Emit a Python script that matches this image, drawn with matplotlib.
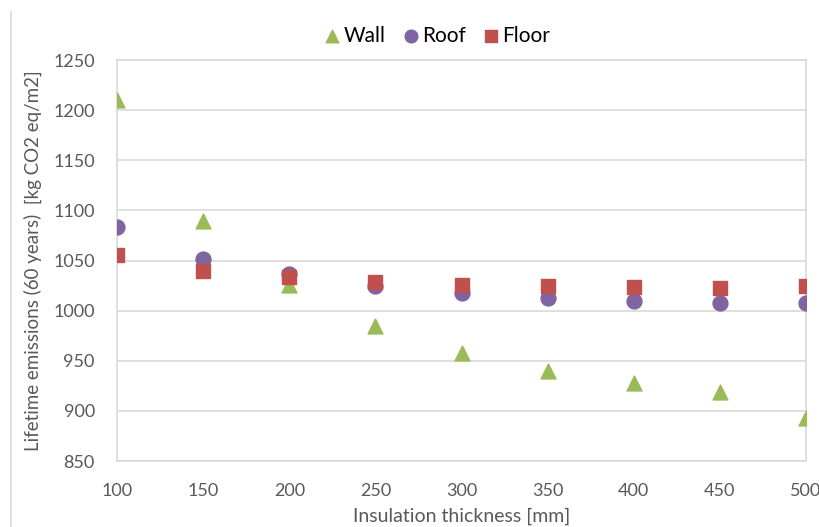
import matplotlib
matplotlib.use("Agg")
import matplotlib.pyplot as plt
from matplotlib.lines import Line2D

# insulation thickness [mm]
thickness = [100, 150, 200, 250, 300, 350, 400, 450, 500]

# lifetime emissions, kg CO2 eq/m2
wall = [1210, 1089, 1026, 985, 958, 940, 928, 919, 893]
roof = [1083, 1052, 1037, 1025, 1018, 1013, 1010, 1008, 1008]
floor = [1056, 1040, 1034, 1029, 1026, 1025, 1024, 1023, 1025]

plt.rcParams['font.family'] = ['Lato', 'DejaVu Sans']

fig = plt.figure(figsize=(8.2, 5.27), dpi=100)
ax = fig.add_axes([0.1427, 0.1252, 0.8403, 0.7608])

ax.scatter(thickness, wall, marker='^', s=115, color='#9BBB59', label='Wall', zorder=3)
ax.scatter(thickness, roof, marker='o', s=115, color='#8064A2', label='Roof', zorder=3)
ax.scatter(thickness, floor, marker='s', s=105, color='#C0504D', label='Floor', zorder=3)

ax.set_xlim(100, 500)
ax.set_ylim(850, 1250)
ax.set_xticks(range(100, 501, 50))
ax.set_yticks(range(850, 1251, 50))
ax.grid(axis='y', color='#D9D9D9', linewidth=1.2)
ax.set_axisbelow(True)
for sp in ax.spines.values():
    sp.set_color('#D9D9D9')
    sp.set_linewidth(1.2)
ax.tick_params(length=0, labelsize=13, colors='#595959')
ax.tick_params(axis='x', pad=16)
ax.tick_params(axis='y', pad=16)

ax.set_xlabel('Insulation thickness [mm]', fontsize=14, color='#595959', labelpad=6)
ax.set_ylabel('Lifetime emissions (60 years)  [kg CO2 eq/m2]', fontsize=13.5,
              color='#595959', labelpad=8)

ax.legend(loc='lower center', bbox_to_anchor=(0.463, 1.005), ncol=3, frameon=False,
          fontsize=15, handlelength=1.0, handletextpad=0.05, columnspacing=0.7,
          markerscale=0.85, borderaxespad=0.2)

# left border of the original picture
fig.add_artist(Line2D([11 / 820, 11 / 820], [0, 1 - 12 / 527], color='#D9D9D9', linewidth=1.2))

fig.savefig('out.png', dpi=100)
